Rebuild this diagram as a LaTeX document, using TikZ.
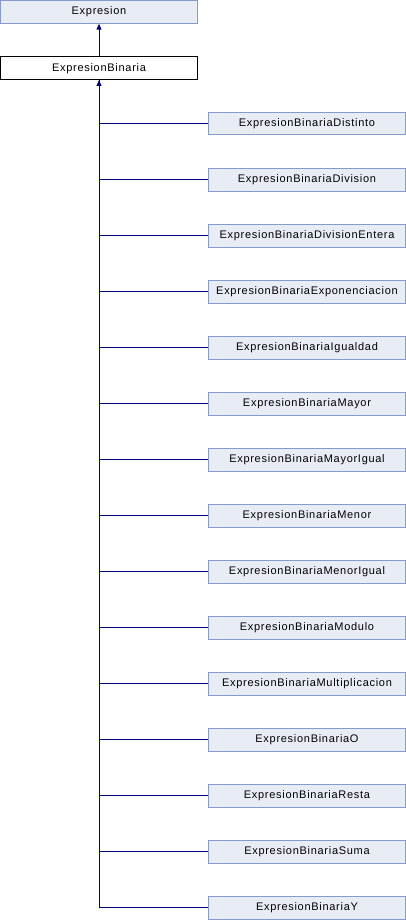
\documentclass[tikz,border=0pt]{standalone}
\usepackage{fontspec}
\setmainfont{Liberation Sans}
\newfontfamily\diafont[LetterSpace=6.5]{Liberation Sans}
\usetikzlibrary{arrows.meta}
\definecolor{boxfill}{RGB}{232,236,245}
\definecolor{boxline}{RGB}{132,155,207}
\definecolor{conncol}{RGB}{0,0,128}
\begin{document}
\begin{tikzpicture}[x=1pt,y=-1pt,
  cls/.style={draw=boxline,fill=boxfill,line width=1pt,minimum width=197pt,minimum height=22.5pt,inner sep=0pt,font=\diafont\fontsize{11}{13}\selectfont},
  cur/.style={cls,draw=black,fill=white},
  conn/.style={draw=conncol,line width=1pt},
  arr/.style={conn,{Triangle[width=5pt,length=6pt]}-}]
\useasboundingbox (0,0) rectangle (406,920);
\node[cls] (expr) at (99,12) {Expresion};
\node[cur] (bin) at (99,68.25) {ExpresionBinaria};
\draw[arr] (expr.south) -- (bin.north);
\foreach \n [count=\k from 0] in {Distinto,Division,DivisionEntera,Exponenciacion,Igualdad,Mayor,MayorIgual,Menor,MenorIgual,Modulo,Multiplicacion,O,Resta,Suma,Y}{
  \node[cls] (c\k) at (307,123.75+56*\k) {ExpresionBinaria\n};
  \draw[conn] (bin.south) |- (c\k.west);
}
\draw[arr] (bin.south) |- (c14.west);
\end{tikzpicture}
\end{document}
